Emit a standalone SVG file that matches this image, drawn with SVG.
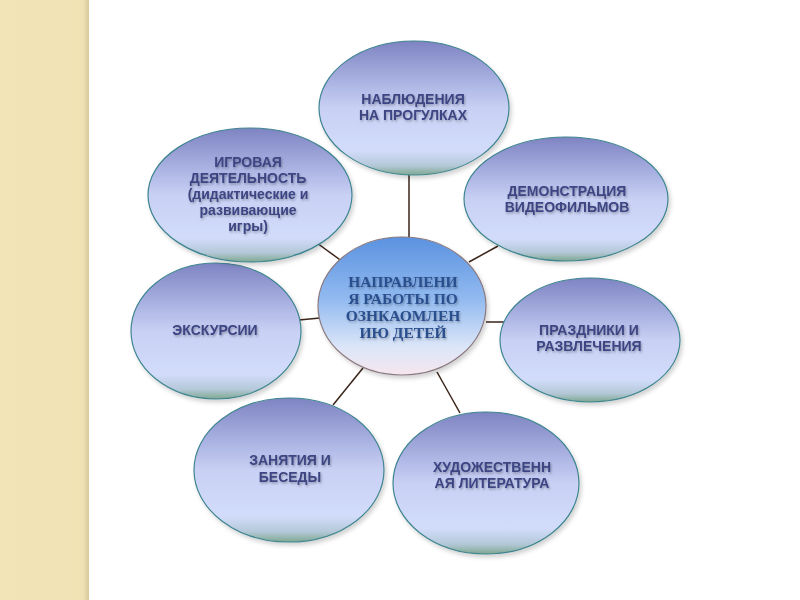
<svg xmlns="http://www.w3.org/2000/svg" width="800" height="600" viewBox="0 0 800 600">
<defs>
<linearGradient id="og" x1="0" y1="0" x2="0" y2="1">
<stop offset="0" stop-color="#7e84c2"/>
<stop offset="0.3" stop-color="#aab2e2"/>
<stop offset="0.5" stop-color="#c8d0f4"/>
<stop offset="0.82" stop-color="#d2dcfa"/>
<stop offset="0.93" stop-color="#b4c8d8"/>
<stop offset="1" stop-color="#7ea890"/>
</linearGradient>
<linearGradient id="cg" x1="0" y1="0" x2="0" y2="1">
<stop offset="0" stop-color="#5a92e0"/>
<stop offset="0.45" stop-color="#92baf0"/>
<stop offset="0.8" stop-color="#dce6f8"/>
<stop offset="1" stop-color="#f6e6ee"/>
</linearGradient>
<linearGradient id="strip" x1="0" y1="0" x2="1" y2="0">
<stop offset="0" stop-color="#f3e4b8"/>
<stop offset="0.93" stop-color="#f1e2b4"/>
<stop offset="1" stop-color="#d8c89c"/>
</linearGradient>
<filter id="ts" x="-10%" y="-30%" width="120%" height="160%">
<feDropShadow dx="1" dy="1.5" stdDeviation="1" flood-color="#000" flood-opacity="0.3"/>
</filter>
<filter id="es" x="-10%" y="-10%" width="125%" height="125%">
<feDropShadow dx="2" dy="3" stdDeviation="2" flood-color="#000" flood-opacity="0.18"/>
</filter>
</defs>
<style>
.o{fill:url(#og);stroke:#3f8590;stroke-width:1.2;filter:url(#es)}
.c{fill:url(#cg);stroke:#8a7a80;stroke-width:1.2;filter:url(#es)}
.t{font-family:"Liberation Sans",Arial,sans-serif;font-weight:bold;font-size:14px;fill:#3c4482;text-anchor:middle;filter:url(#ts)}
.ct{font-family:"Liberation Serif","Times New Roman",serif;font-weight:bold;font-size:15.5px;fill:#2c4f8e;text-anchor:middle;filter:url(#ts)}
.l{stroke:#3a2418;stroke-width:1.5;fill:none}
</style>
<rect x="0" y="0" width="800" height="600" fill="#ffffff"/>
<rect x="0" y="0" width="89" height="600" fill="url(#strip)"/>
<g id="connectors">
<line class="l" x1="409" y1="175" x2="409" y2="238"/>
<line class="l" x1="469" y1="262" x2="498" y2="246"/>
<line class="l" x1="486" y1="322" x2="504" y2="322"/>
<line class="l" x1="437" y1="372" x2="460" y2="413"/>
<line class="l" x1="363" y1="368" x2="333" y2="405"/>
<line class="l" x1="299" y1="320" x2="320" y2="318"/>
<line class="l" x1="317" y1="243" x2="343" y2="262"/>
</g>
<g id="n-nabl">
<ellipse class="o" cx="414" cy="108" rx="95" ry="67"/>
<text class="t" x="413" y="104">НАБЛЮДЕНИЯ</text>
<text class="t" x="413" y="120">НА ПРОГУЛКАХ</text>
</g>
<g id="n-demo">
<ellipse class="o" cx="566" cy="199" rx="102" ry="62"/>
<text class="t" x="567" y="196">ДЕМОНСТРАЦИЯ</text>
<text class="t" x="567" y="212">ВИДЕОФИЛЬМОВ</text>
</g>
<g id="n-prazd">
<ellipse class="o" cx="590" cy="340" rx="90" ry="62"/>
<text class="t" x="589" y="335">ПРАЗДНИКИ И</text>
<text class="t" x="589" y="351">РАЗВЛЕЧЕНИЯ</text>
</g>
<g id="n-hud">
<ellipse class="o" cx="486" cy="483" rx="93" ry="71"/>
<text class="t" x="492" y="472">ХУДОЖЕСТВЕНН</text>
<text class="t" x="492" y="488">АЯ ЛИТЕРАТУРА</text>
</g>
<g id="n-zan">
<ellipse class="o" cx="289" cy="470" rx="95" ry="72"/>
<text class="t" x="290" y="465">ЗАНЯТИЯ И</text>
<text class="t" x="290" y="482">БЕСЕДЫ</text>
</g>
<g id="n-eks">
<ellipse class="o" cx="216" cy="331" rx="85" ry="68"/>
<text class="t" x="215" y="335">ЭКСКУРСИИ</text>
</g>
<g id="n-igr">
<ellipse class="o" cx="250" cy="195" rx="102" ry="67"/>
<text class="t" x="248" y="167">ИГРОВАЯ</text>
<text class="t" x="248" y="183">ДЕЯТЕЛЬНОСТЬ</text>
<text class="t" x="248" y="199">(дидактические и</text>
<text class="t" x="248" y="215">развивающие</text>
<text class="t" x="248" y="231">игры)</text>
</g>
<g id="n-center">
<ellipse class="c" cx="402" cy="306" rx="84" ry="69"/>
<text class="ct" x="403" y="287">НАПРАВЛЕНИ</text>
<text class="ct" x="403" y="304">Я РАБОТЫ ПО</text>
<text class="ct" x="403" y="321">ОЗНКАОМЛЕН</text>
<text class="ct" x="403" y="338">ИЮ ДЕТЕЙ</text>
</g>
</svg>
